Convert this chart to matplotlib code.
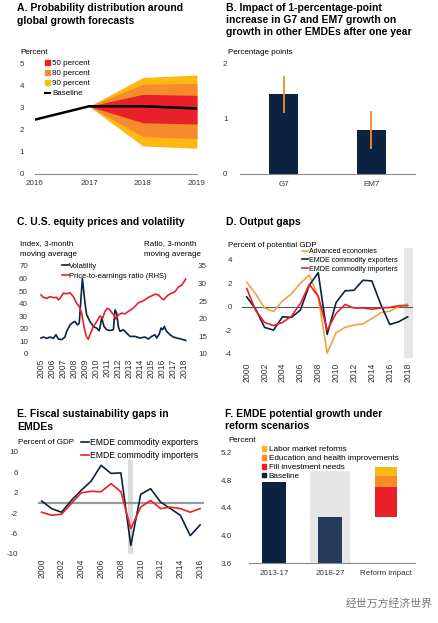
import numpy as np
import matplotlib
matplotlib.use("Agg")
import matplotlib.pyplot as plt
from matplotlib.patches import Patch
from matplotlib.lines import Line2D

plt.rcParams['font.family'] = ['Liberation Sans', 'DejaVu Sans']
plt.rcParams['axes.unicode_minus'] = False

NAVY = "#0B2341"
RED = "#E8202A"
ORANGE = "#F58B2A"
YELLOW = "#FDB813"
LORANGE = "#F7A043"
GRAY = "#8C8C8C"

# ---- A. probability distribution
base_years = [2016, 2017, 2018, 2019]
baseline = [2.45, 3.05, 3.05, 2.95]
band_years = [2017, 2018, 2019]
p90_lo = [3.05, 1.26, 1.16]
p80_lo = [3.05, 1.68, 1.60]
p50_lo = [3.05, 2.31, 2.25]
p50_hi = [3.05, 3.59, 3.54]
p80_hi = [3.05, 4.04, 4.08]
p90_hi = [3.05, 4.35, 4.46]

# ---- B. impact of growth
b_cats = ["G7", "EM7"]
b_vals = [1.45, 0.80]
b_lo = [1.11, 0.46]
b_hi = [1.78, 1.15]

# ---- C. equity prices and volatility
vol_t = [2005.0, 2005.21, 2005.52, 2005.82, 2006.12, 2006.36, 2006.58, 2006.88,
         2007.18, 2007.33, 2007.64, 2007.94, 2008.09, 2008.30, 2008.48, 2008.76,
         2009.0, 2009.15, 2009.45, 2009.76, 2010.06, 2010.30, 2010.52, 2010.73,
         2010.97, 2011.27, 2011.58, 2011.73, 2011.88, 2012.03, 2012.18, 2012.48,
         2012.79, 2013.09, 2013.55, 2014.0, 2014.45, 2014.76, 2015.06, 2015.36,
         2015.52, 2015.76, 2015.91, 2016.06, 2016.21, 2016.42, 2016.73, 2017.03,
         2017.33, 2017.64, 2017.94, 2018.15]
vol_v = [12.7, 13.5, 12.4, 13.5, 12.4, 15.3, 11.9, 11.4,
         13.5, 18.0, 23.2, 25.3, 25.9, 23.2, 24.6, 60.2,
         40.4, 31.2, 25.9, 21.9, 20.6, 18.5, 28.5, 21.9,
         19.3, 18.7, 19.3, 35.1, 32.5, 21.9, 18.0, 19.3,
         16.6, 14.0, 14.0, 12.7, 13.5, 11.9, 14.0, 15.3,
         12.7, 16.1, 20.6, 19.3, 21.9, 18.0, 15.3, 13.5,
         12.7, 12.1, 11.4, 10.8]
pe_t = [2005.0, 2005.21, 2005.52, 2005.82, 2006.12, 2006.42, 2006.58, 2006.73,
        2007.03, 2007.33, 2007.64, 2007.94, 2008.24, 2008.48, 2008.70, 2008.85,
        2009.0, 2009.15, 2009.30, 2009.45, 2009.76, 2010.06, 2010.36, 2010.61,
        2010.82, 2011.03, 2011.27, 2011.42, 2011.64, 2011.82, 2012.03, 2012.33,
        2012.64, 2012.94, 2013.24, 2013.55, 2013.85, 2014.15, 2014.45, 2014.76,
        2015.06, 2015.36, 2015.67, 2015.97, 2016.18, 2016.33, 2016.58, 2016.88,
        2017.18, 2017.48, 2017.79, 2018.0, 2018.15]
pe_v = [26.8, 26.1, 25.8, 26.3, 26.0, 26.1, 25.4, 25.8,
        27.3, 27.1, 27.4, 26.3, 24.4, 23.5, 21.6, 18.8,
        16.4, 14.8, 14.2, 15.5, 17.8, 19.2, 20.8, 20.2,
        22.1, 23.0, 22.5, 21.8, 21.1, 19.9, 21.1, 21.6,
        21.4, 22.1, 22.7, 23.5, 24.6, 24.9, 25.4, 26.1,
        26.5, 27.0, 26.8, 25.8, 25.4, 26.1, 26.8, 27.3,
        27.7, 29.0, 29.6, 30.5, 31.3]
c_years = list(range(2005, 2019))

# ---- D. output gaps
d_years = list(range(2000, 2019))
adv = [2.1, 1.1, -0.1, -0.4, 0.5, 1.1, 2.0, 2.7, 0.85, -3.95, -2.2, -1.75,
       -1.55, -1.45, -1.0, -0.5, -0.37, 0.0, 0.23]
exporters_d = [0.85, -0.2, -1.75, -1.98, -0.85, -0.9, -0.28, 1.84, 2.9, -2.35,
               0.37, 1.36, 1.41, 2.26, 2.2, 0.2, -1.5, -1.27, -0.85]
importers_d = [1.55, -0.3, -1.33, -1.6, -1.33, -0.8, 0.28, 1.9, 0.9, -1.98,
               -0.56, 0.2, -0.1, -0.1, -0.2, -0.1, -0.05, 0.1, 0.1]
d_shade = (2017.6, 2018.6)

# ---- E. fiscal sustainability gaps
e_years = list(range(2000, 2017))
exporters_e = [0.4, -1.1, -1.8, 0.5, 2.5, 4.3, 7.4, 5.8, 5.9, -8.3, 1.7, 2.8,
               0.2, -1.1, -2.4, -6.4, -4.3]
importers_e = [-1.8, -2.4, -2.2, -0.1, 2.0, 2.3, 2.2, 3.8, 2.2, -5.0, -0.8, 0.5,
               -1.1, -0.8, -1.1, -1.8, -1.1]
e_shade = (2008.75, 2009.25, 8.4)

# ---- F. potential growth
f_cats = ["2013-17", "2018-27", "Reform impact"]
f_base = [4.78, 4.27]
reform_parts = [0.43, 0.16, 0.13]
reform_labels = ["Fill investment needs", "Education and health improvements",
                 "Labor market reforms"]
reform_colors = [RED, ORANGE, YELLOW]
f_shade_top = 4.94

W, H = 439, 623
fig = plt.figure(figsize=(W / 100, H / 100), dpi=100)


def rect(l, r, t, b):
    return [l / W, 1 - b / H, (r - l) / W, (b - t) / H]


def ftext(x, y, s, **kw):
    kw.setdefault("fontsize", 5.8)
    kw.setdefault("va", "center")
    fig.text(x / W, 1 - y / H, s, **kw)


def clean(ax):
    for s in ax.spines.values():
        s.set_visible(False)
    ax.tick_params(length=0, labelsize=5.8, colors="#333333")


TFS = 7.45
RFS = 6.2
# ---------------- A
ax = fig.add_axes(rect(35, 197, 63, 174))
clean(ax)
ax.fill_between(band_years, p90_lo, p90_hi, color=YELLOW, lw=0)
ax.fill_between(band_years, p80_lo, p80_hi, color=ORANGE, lw=0)
ax.fill_between(band_years, p50_lo, p50_hi, color=RED, lw=0)
ax.plot(base_years, baseline, color="black", lw=1.8)
ax.set_xlim(2016, 2019)
ax.set_ylim(0, 5)
ax.set_xticks(base_years)
ax.set_yticks(range(0, 6))
ax.spines["bottom"].set_visible(True)
ax.spines["bottom"].set_color(GRAY)
ax.tick_params(axis="y", pad=8)
ax.tick_params(axis="x", pad=4)
hA = [Patch(color=RED), Patch(color=ORANGE), Patch(color=YELLOW),
      Line2D([], [], color="black", lw=1.5)]
ax.legend(hA, ["50 percent", "80 percent", "90 percent", "Baseline"],
          loc="upper left", bbox_to_anchor=(0.06, 1.03), frameon=False,
          fontsize=5.8, handlelength=0.7, handleheight=0.7, handletextpad=0.2,
          labelspacing=0.3, borderpad=0, borderaxespad=0)
ftext(17, 8, "A. Probability distribution around", fontsize=TFS, weight="bold")
ftext(17, 20.5, "global growth forecasts", fontsize=TFS, weight="bold")
ftext(20, 53, "Percent")

# ---------------- B
ax = fig.add_axes(rect(240, 415, 64, 174))
clean(ax)
xb = np.arange(len(b_cats))
yerr = [np.array(b_vals) - np.array(b_lo), np.array(b_hi) - np.array(b_vals)]
ax.bar(xb, b_vals, width=0.33, color=NAVY)
ax.errorbar(xb, b_vals, yerr=yerr, fmt="none", ecolor=ORANGE, elinewidth=1.3,
            capsize=0)
ax.set_xlim(-0.5, 1.5)
ax.set_ylim(0, 2)
ax.set_xticks(xb)
ax.set_xticklabels(b_cats)
ax.set_yticks([0, 1, 2])
ax.spines["bottom"].set_visible(True)
ax.spines["bottom"].set_color(GRAY)
ax.tick_params(axis="y", pad=9)
ax.tick_params(axis="x", pad=5)
ftext(226, 8, "B. Impact of 1-percentage-point", fontsize=TFS, weight="bold")
ftext(226, 20, "increase in G7 and EM7 growth on", fontsize=TFS, weight="bold")
ftext(226, 32, "growth in other EMDEs after one year", fontsize=TFS, weight="bold")
ftext(228, 53, "Percentage points")

# ---------------- C
ax = fig.add_axes(rect(37.7, 188.4, 266, 354))
clean(ax)
ax.plot(vol_t, vol_v, color=NAVY, lw=1.2)
ax.set_ylim(0, 70)
ax.set_yticks(range(0, 80, 10))
ax.set_xlim(2004.7, 2018.4)
ax.set_xticks(c_years)
ax.set_xticklabels([str(y) for y in c_years], rotation=90, fontsize=RFS)
ax.tick_params(axis="y", pad=7)
ax2 = ax.twinx()
clean(ax2)
ax2.plot(pe_t, pe_v, color=RED, lw=1.2)
ax2.set_ylim(10, 35)
ax2.set_yticks(range(10, 40, 5))
ax2.tick_params(axis="y", pad=7)
hC = [Line2D([], [], color=NAVY, lw=1.2), Line2D([], [], color=RED, lw=1.2)]
ax2.legend(hC, ["Volatility", "Price-to-earnings ratio (RHS)"], loc="upper left",
           bbox_to_anchor=(0.16, 1.04), frameon=False, fontsize=5.4,
           handlelength=0.9, handletextpad=0.1, labelspacing=0.35,
           borderpad=0, borderaxespad=0)
ftext(17, 222, "C. U.S. equity prices and volatility", fontsize=TFS, weight="bold")
ftext(20, 244, "Index, 3-month")
ftext(20, 254, "moving average")
ftext(144, 244, "Ratio, 3-month")
ftext(144, 254, "moving average")

# ---------------- D
ax = fig.add_axes(rect(241.8, 413, 248, 358))
clean(ax)
ax.axvspan(d_shade[0], d_shade[1], color="#E6E6E6", lw=0, zorder=0)
ax.axhline(0, color="#555555", lw=0.8, zorder=1)
ax.plot(d_years, adv, color=LORANGE, lw=1.2, label="Advanced economies")
ax.plot(d_years, exporters_d, color=NAVY, lw=1.2, label="EMDE commodity exporters")
ax.plot(d_years, importers_d, color=RED, lw=1.2, label="EMDE commodity importers")
ax.set_xlim(1999.45, 2018.6)
ax.set_ylim(-4.35, 5.0)
ax.set_yticks([-4, -2, 0, 2, 4])
ax.set_xticks(d_years[::2])
ax.set_xticklabels([str(y) for y in d_years[::2]], rotation=90, fontsize=RFS)
ax.tick_params(axis="y", pad=7)
ax.legend(loc="upper left", bbox_to_anchor=(0.35, 1.0), frameon=False,
          fontsize=5.1, handlelength=0.9, handletextpad=0.1, labelspacing=0.25,
          borderpad=0, borderaxespad=0)
ftext(226, 222, "D. Output gaps", fontsize=TFS, weight="bold")
ftext(228, 245, "Percent of potential GDP")

# ---------------- E
ax = fig.add_axes(rect(37.7, 204.1, 452, 554))
clean(ax)
ax.fill_between([e_shade[0], e_shade[1]], -10, e_shade[2], color="#DCDCDC",
                lw=0, zorder=0)
ax.axhline(0, color="#999999", lw=1.6, zorder=1)
ax.plot(e_years, exporters_e, color=NAVY, lw=1.2, label="EMDE commodity exporters")
ax.plot(e_years, importers_e, color=RED, lw=1.2, label="EMDE commodity importers")
ax.set_xlim(1999.6, 2016.4)
ax.set_ylim(-10, 10)
ax.set_yticks([-10, -6, -2, 2, 6, 10])
ax.set_xticks(e_years[::2])
ax.set_xticklabels([str(y) for y in e_years[::2]], rotation=90, fontsize=RFS)
ax.tick_params(axis="y", pad=14)
ax.legend(loc="upper left", bbox_to_anchor=(0.26, 1.14), frameon=False,
          fontsize=6.2, handlelength=0.9, handletextpad=0.1, labelspacing=0.55,
          borderpad=0, borderaxespad=0)
ftext(17, 414, "E. Fiscal sustainability gaps in", fontsize=TFS, weight="bold")
ftext(17, 426.5, "EMDEs", fontsize=TFS, weight="bold")
ftext(18, 443, "Percent of GDP")

# ---------------- F
ax = fig.add_axes(rect(248.8, 415.1, 452.7, 563.3))
clean(ax)
xf = np.arange(len(f_cats))
ax.bar(1, f_shade_top - 3.6, bottom=3.6, width=0.7, color="#E6E6E6", zorder=0)
ax.bar(xf[:2], np.array(f_base) - 3.6, bottom=3.6, width=0.43,
       color=[NAVY, "#243B5A"], zorder=2)
bottom = f_base[1]
for h, c in zip(reform_parts, reform_colors):
    ax.bar(2, h, bottom=bottom, width=0.4, color=c, zorder=2)
    bottom += h
ax.set_xlim(-0.45, 2.52)
ax.set_ylim(3.6, 5.2)
ax.set_yticks([3.6, 4.0, 4.4, 4.8, 5.2])
ax.set_yticklabels(["3.6", "4.0", "4.4", "4.8", "5.2"])
ax.set_xticks(xf)
ax.set_xticklabels(f_cats)
ax.spines["bottom"].set_visible(True)
ax.spines["bottom"].set_color(GRAY)
ax.tick_params(axis="y", pad=12)
ax.tick_params(axis="x", pad=5)
hF = [Patch(color=YELLOW), Patch(color=ORANGE), Patch(color=RED), Patch(color=NAVY)]
ax.legend(hF, reform_labels[::-1] + ["Baseline"], loc="upper left",
          bbox_to_anchor=(0.08, 1.06), frameon=False, fontsize=5.9,
          handlelength=0.5, handleheight=0.5, handletextpad=0.3,
          labelspacing=0.2, borderpad=0, borderaxespad=0)
ftext(225, 414, "F. EMDE potential growth under", fontsize=TFS, weight="bold")
ftext(225, 426, "reform scenarios", fontsize=TFS, weight="bold")
ftext(228, 441, "Percent")

# watermark
ftext(346, 604, "经世万方经济世界", fontsize=7.8, color="#7A7A7A",
      family=["Noto Sans CJK SC", "DejaVu Sans"])

fig.savefig("out.png", dpi=100)
